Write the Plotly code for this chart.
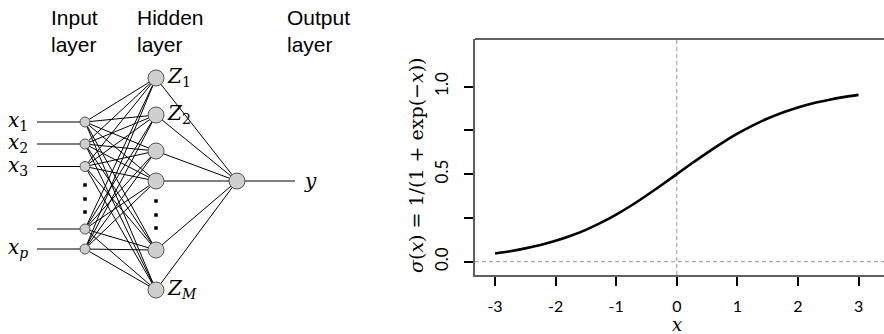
import plotly.graph_objects as go

# ---- data ----
# sigmoid curve values
sig_x = [-3, -2.75, -2.5, -2.25, -2, -1.75, -1.5, -1.25, -1, -0.75, -0.5, -0.25, 0,
         0.25, 0.5, 0.75, 1, 1.25, 1.5, 1.75, 2, 2.25, 2.5, 2.75, 3]
sig_y = [0.047, 0.060, 0.076, 0.095, 0.119, 0.148, 0.182, 0.223, 0.269, 0.321, 0.378, 0.438, 0.5,
         0.562, 0.622, 0.679, 0.731, 0.777, 0.818, 0.852, 0.881, 0.905, 0.924, 0.940, 0.953]
x_ticks = [-3, -2, -1, 0, 1, 2, 3]
y_ticks = [0, 0.25, 0.5, 0.75, 1.0]
y_tick_labels = ["0.0", "", "0.5", "", "1.0"]

# network diagram layout (pixel units of the diagram panel)
layer_x = [85, 156, 237]
input_y = [122, 144, 166.5, 229, 249]
hidden_y = [78, 115, 151, 181, 250, 290]
output_y = [181]
input_labels = ["<i>x</i><sub>1</sub>", "<i>x</i><sub>2</sub>", "<i>x</i><sub>3</sub>", "",
                "<i>x</i><sub><i>p</i></sub>"]
hidden_labels = {0: "<i>Z</i><sub>1</sub>", 1: "<i>Z</i><sub>2</sub>", 5: "<i>Z</i><sub><i>M</i></sub>"}
layer_titles = ["Input<br>layer", "Hidden<br>layer", "Output<br>layer"]
layer_title_x = [49, 135, 285]
input_dots_y = [185, 199, 212]
hidden_dots_y = [201, 215, 228]
input_line_start = 37
output_line_end = 295

W, H = 884, 334
fig = go.Figure()

# ---- diagram edges ----
ex, ey = [], []
for yi in input_y:
    ex += [input_line_start, layer_x[0], None]
    ey += [yi, yi, None]
for yi in input_y:
    for yh in hidden_y:
        ex += [layer_x[0], layer_x[1], None]
        ey += [yi, yh, None]
for yh in hidden_y:
    ex += [layer_x[1], layer_x[2], None]
    ey += [yh, output_y[0], None]
ex += [layer_x[2], output_line_end, None]
ey += [output_y[0], output_y[0], None]
fig.add_trace(go.Scatter(x=ex, y=ey, mode="lines", line=dict(color="black", width=1),
                         hoverinfo="skip", showlegend=False, xaxis="x", yaxis="y"))

# nodes
fig.add_trace(go.Scatter(x=[layer_x[0]] * len(input_y), y=input_y, mode="markers",
                         marker=dict(size=10, color="#cfcfcf", line=dict(color="#555555", width=1)),
                         showlegend=False, xaxis="x", yaxis="y"))
fig.add_trace(go.Scatter(x=[layer_x[1]] * len(hidden_y) + [layer_x[2]], y=hidden_y + output_y,
                         mode="markers",
                         marker=dict(size=16, color="#cfcfcf", line=dict(color="#555555", width=1)),
                         showlegend=False, xaxis="x", yaxis="y"))
# vertical ellipsis dots
fig.add_trace(go.Scatter(x=[layer_x[0]] * 3 + [layer_x[1]] * 3, y=input_dots_y + hidden_dots_y,
                         mode="markers", marker=dict(size=3.5, color="black", symbol="square"),
                         showlegend=False, xaxis="x", yaxis="y"))

# ---- sigmoid panel ----
fig.add_trace(go.Scatter(x=sig_x, y=sig_y, mode="lines", line=dict(color="black", width=2.6, shape="spline"),
                         showlegend=False, xaxis="x2", yaxis="y2"))

annotations = []
for t, xx in zip(layer_titles, layer_title_x):
    annotations.append(dict(x=xx, y=4, xref="x", yref="y", text=t, showarrow=False,
                            xanchor="left", yanchor="top", align="left",
                            font=dict(family="Liberation Sans", size=21, color="black")))
for lab, yy in zip(input_labels, input_y):
    if lab:
        annotations.append(dict(x=6, y=yy - 1, xref="x", yref="y", text=lab, showarrow=False,
                                xanchor="left", yanchor="middle",
                                font=dict(family="DejaVu Serif", size=20, color="black")))
for i, lab in hidden_labels.items():
    annotations.append(dict(x=165, y=hidden_y[i] - 1, xref="x", yref="y", text=lab, showarrow=False,
                            xanchor="left", yanchor="middle",
                            font=dict(family="DejaVu Serif", size=20, color="black")))
annotations.append(dict(x=302, y=output_y[0], xref="x", yref="y", text="<i>y</i>", showarrow=False,
                        xanchor="left", yanchor="middle",
                        font=dict(family="DejaVu Serif", size=20, color="black")))
# axis titles for sigmoid panel
annotations.append(dict(x=416, y=165, xref="x", yref="y", text="<i>σ</i>(<i>x</i>) = 1/(1 + exp(−<i>x</i>))",
                        showarrow=False, textangle=-90, xanchor="center", yanchor="middle",
                        font=dict(family="DejaVu Serif", size=19, color="black")))
annotations.append(dict(x=677, y=324, xref="x", yref="y", text="<i>x</i>", showarrow=False,
                        xanchor="center", yanchor="middle",
                        font=dict(family="DejaVu Serif", size=18, color="black")))

x2_dom = [475 / W, 1.0]
y2_dom = [(H - 275) / H, (H - 39) / H]

shapes = [
    # dashed reference lines
    dict(type="line", xref="x2", yref="y2 domain", x0=0, x1=0, y0=0, y1=1,
         line=dict(color="#aaaaaa", width=1.2, dash="4px,3px"), layer="below"),
    dict(type="line", xref="x2 domain", yref="y2", x0=0, x1=1, y0=0, y1=0,
         line=dict(color="#aaaaaa", width=1.2, dash="4px,3px"), layer="below"),
    # top frame line
    dict(type="line", xref="x2 domain", yref="y2 domain", x0=0, x1=1, y0=1, y1=1,
         line=dict(color="#606060", width=2)),
]

fig.update_layout(
    width=W, height=H, margin=dict(l=0, r=0, t=0, b=0),
    paper_bgcolor="white", plot_bgcolor="rgba(0,0,0,0)",
    xaxis=dict(domain=[0, 1], range=[0, W], visible=False, fixedrange=True),
    yaxis=dict(domain=[0, 1], range=[H, 0], visible=False, fixedrange=True),
    xaxis2=dict(domain=x2_dom, anchor="y2", range=[-3.33, 3.42], tickmode="array", tickvals=x_ticks,
                ticktext=[str(v) for v in x_ticks], ticks="outside", ticklen=9, tickwidth=2,
                tickcolor="black", showline=True, linecolor="#606060", linewidth=2, showgrid=False,
                zeroline=False, ticklabelstandoff=7, tickfont=dict(family="Lato", size=16, color="black")),
    yaxis2=dict(domain=y2_dom, anchor="x2", range=[-0.076, 1.272], tickmode="array", tickvals=y_ticks,
                ticktext=y_tick_labels, ticks="outside", ticklen=9, tickwidth=2, tickangle=-90,
                tickcolor="black", showline=True, linecolor="#606060", linewidth=2, showgrid=False,
                zeroline=False, ticklabelstandoff=9, tickfont=dict(family="Lato", size=17, color="black")),
    annotations=annotations,
    shapes=shapes,
)

fig.write_html("out.html", config={"displayModeBar": False},
               post_script="document.body.style.margin='0';document.body.style.overflow='hidden';")
